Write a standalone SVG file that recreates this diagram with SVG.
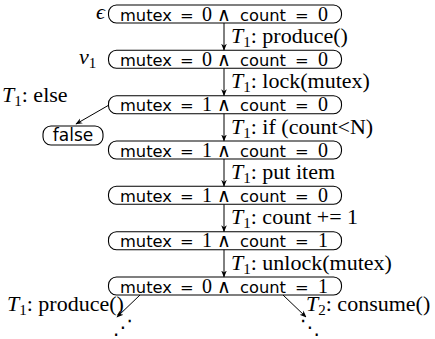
<svg xmlns="http://www.w3.org/2000/svg" width="435" height="339" viewBox="0 0 435 339">
<defs>
<marker id="ah" viewBox="0 0 10 10" refX="9" refY="5" markerWidth="7" markerHeight="7" orient="auto" markerUnits="userSpaceOnUse">
<path d="M0,1 L10,5 L0,9 L3,5 Z" fill="#000"/>
</marker>
</defs>
<style>
.box{fill:#fff;stroke:#000;stroke-width:1.1}
.s{font-family:"DejaVu Sans","Liberation Sans",sans-serif;font-size:16.3px;fill:#000}
.w{font-family:"DejaVu Sans",sans-serif;font-size:19px;fill:#000}
.d{font-family:"Liberation Serif","DejaVu Serif",serif;font-size:20px;fill:#000}
.lb{font-family:"Liberation Serif","DejaVu Serif",serif;font-size:22px;fill:#000}
.it{font-style:italic}
.sub{font-size:15px}
.edge{stroke:#000;stroke-width:1;fill:none;marker-end:url(#ah)}
.dt{font-family:"DejaVu Sans",sans-serif;font-size:20px;fill:#000}
</style>
<g id="n0" transform="translate(0,5)"><rect class="box" x="108.5" y="0" width="233" height="18" rx="8"/><text class="s" x="120" y="15.5">mutex</text><text class="s" x="180" y="15.5">=</text><text class="d" x="202" y="15.5">0</text><text class="w" x="217" y="15.5">∧</text><text class="s" x="240" y="15.5">count</text><text class="s" x="295" y="15.5">=</text><text class="d" x="318" y="15.5">0</text></g>
<text class="lb it" x="96" y="19">ϵ</text>
<g id="n1" transform="translate(0,50.3)"><rect class="box" x="108.5" y="0" width="233" height="18" rx="8"/><text class="s" x="120" y="15.5">mutex</text><text class="s" x="180" y="15.5">=</text><text class="d" x="202" y="15.5">0</text><text class="w" x="217" y="15.5">∧</text><text class="s" x="240" y="15.5">count</text><text class="s" x="295" y="15.5">=</text><text class="d" x="318" y="15.5">0</text></g>
<text class="lb" x="79" y="64"><tspan class="it">v</tspan><tspan class="sub" dy="4">1</tspan></text>
<g id="n2" transform="translate(0,95.7)"><rect class="box" x="108.5" y="0" width="233" height="18" rx="8"/><text class="s" x="120" y="15.5">mutex</text><text class="s" x="180" y="15.5">=</text><text class="d" x="202" y="15.5">1</text><text class="w" x="217" y="15.5">∧</text><text class="s" x="240" y="15.5">count</text><text class="s" x="295" y="15.5">=</text><text class="d" x="318" y="15.5">0</text></g>
<g id="nf"><rect class="box" x="43" y="126" width="60" height="19" rx="8"/><text class="s" x="73" y="141" text-anchor="middle" style="font-size:17px">false</text></g>
<g id="n3" transform="translate(0,141)"><rect class="box" x="108.5" y="0" width="233" height="18" rx="8"/><text class="s" x="120" y="15.5">mutex</text><text class="s" x="180" y="15.5">=</text><text class="d" x="202" y="15.5">1</text><text class="w" x="217" y="15.5">∧</text><text class="s" x="240" y="15.5">count</text><text class="s" x="295" y="15.5">=</text><text class="d" x="318" y="15.5">0</text></g>
<g id="n4" transform="translate(0,186.3)"><rect class="box" x="108.5" y="0" width="233" height="18" rx="8"/><text class="s" x="120" y="15.5">mutex</text><text class="s" x="180" y="15.5">=</text><text class="d" x="202" y="15.5">1</text><text class="w" x="217" y="15.5">∧</text><text class="s" x="240" y="15.5">count</text><text class="s" x="295" y="15.5">=</text><text class="d" x="318" y="15.5">0</text></g>
<g id="n5" transform="translate(0,231.7)"><rect class="box" x="108.5" y="0" width="233" height="18" rx="8"/><text class="s" x="120" y="15.5">mutex</text><text class="s" x="180" y="15.5">=</text><text class="d" x="202" y="15.5">1</text><text class="w" x="217" y="15.5">∧</text><text class="s" x="240" y="15.5">count</text><text class="s" x="295" y="15.5">=</text><text class="d" x="318" y="15.5">1</text></g>
<g id="n6" transform="translate(0,277)"><rect class="box" x="108.5" y="0" width="233" height="18" rx="8"/><text class="s" x="120" y="15.5">mutex</text><text class="s" x="180" y="15.5">=</text><text class="d" x="202" y="15.5">0</text><text class="w" x="217" y="15.5">∧</text><text class="s" x="240" y="15.5">count</text><text class="s" x="295" y="15.5">=</text><text class="d" x="318" y="15.5">1</text></g>
<g id="dots"><text class="dt" x="113" y="334">⋰</text><text class="dt" x="300" y="334">⋱</text></g>
<g id="edges">
<line class="edge" x1="224" y1="23" x2="224" y2="50"/>
<line class="edge" x1="224" y1="68.3" x2="224" y2="95.5"/>
<line class="edge" x1="224" y1="113.7" x2="224" y2="140.8"/>
<line class="edge" x1="224" y1="159" x2="224" y2="186.1"/>
<line class="edge" x1="224" y1="204.3" x2="224" y2="231.5"/>
<line class="edge" x1="224" y1="249.7" x2="224" y2="276.8"/>
<line class="edge" x1="109" y1="105" x2="76" y2="124"/>
<line class="edge" x1="140" y1="295" x2="117" y2="317"/>
<line class="edge" x1="283" y1="295" x2="306" y2="317"/>
<text class="lb" x="231" y="43"><tspan class="it">T</tspan><tspan class="sub" dy="4">1</tspan><tspan dy="-4">: produce()</tspan></text>
<text class="lb" x="231" y="88.3"><tspan class="it">T</tspan><tspan class="sub" dy="4">1</tspan><tspan dy="-4">: lock(mutex)</tspan></text>
<text class="lb" x="231" y="133.7"><tspan class="it">T</tspan><tspan class="sub" dy="4">1</tspan><tspan dy="-4">: if (count&lt;N)</tspan></text>
<text class="lb" x="231" y="179"><tspan class="it">T</tspan><tspan class="sub" dy="4">1</tspan><tspan dy="-4">: put item</tspan></text>
<text class="lb" x="231" y="224.3"><tspan class="it">T</tspan><tspan class="sub" dy="4">1</tspan><tspan dy="-4">: count += 1</tspan></text>
<text class="lb" x="231" y="269.7"><tspan class="it">T</tspan><tspan class="sub" dy="4">1</tspan><tspan dy="-4">: unlock(mutex)</tspan></text>
<text class="lb" x="2" y="102"><tspan class="it">T</tspan><tspan class="sub" dy="4">1</tspan><tspan dy="-4">: else</tspan></text>
<text class="lb" x="7" y="311"><tspan class="it">T</tspan><tspan class="sub" dy="4">1</tspan><tspan dy="-4">: produce()</tspan></text>
<text class="lb" x="306" y="311"><tspan class="it">T</tspan><tspan class="sub" dy="4">2</tspan><tspan dy="-4">: consume()</tspan></text>
</g>
</svg>
